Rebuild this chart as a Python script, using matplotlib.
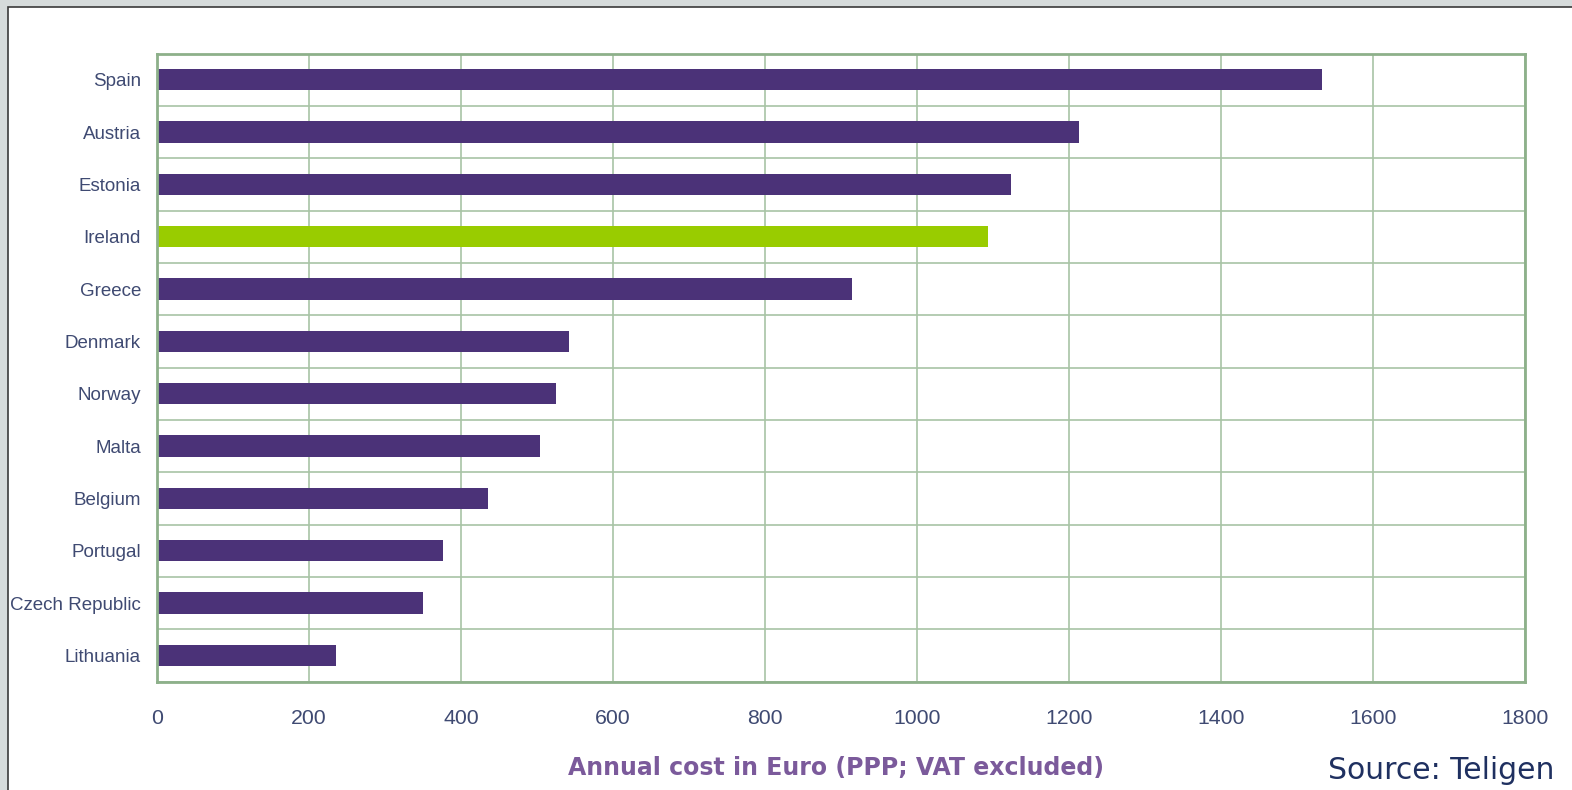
import numpy as np
import matplotlib
matplotlib.use('Agg')
import matplotlib.pyplot as plt
from matplotlib.patches import Rectangle

# annual cost per country, top of chart first
countries = ['Spain', 'Austria', 'Estonia', 'Ireland', 'Greece', 'Denmark',
             'Norway', 'Malta', 'Belgium', 'Portugal', 'Czech Republic', 'Lithuania']
cost = [1533, 1213, 1124, 1093, 914, 542, 525, 504, 435, 376, 350, 235]
highlight = 'Ireland'
x_ticks = [0, 200, 400, 600, 800, 1000, 1200, 1400, 1600, 1800]

purple = '#4B3278'
lime = '#99CC00'
frame_green = '#8DB08A'
grid_green = '#A8C4A5'
label_col = '#3F4A72'

W, H = 1572, 790
fig = plt.figure(figsize=(W / 100, H / 100), dpi=100)
fig.patch.set_facecolor('#D6DBDB')

# white panel with dark edge on the top/left
panel = Rectangle((8 / W, -0.02), 1.05, 1 - 7 / H + 0.02, transform=fig.transFigure,
                  facecolor='white', edgecolor='#3A3A3A', lw=1.2, zorder=-10)
fig.patches.append(panel)

ax = fig.add_axes([157 / W, 1 - 681.5 / H, 1368 / W, 628 / H])
ax.set_facecolor('none')
ax.set_zorder(1)

y = np.arange(len(countries))
colors = [lime if c == highlight else purple for c in countries]
ax.barh(y, cost, height=0.41, color=colors, zorder=3)

ax.set_xlim(0, 1800)
ax.set_ylim(len(countries) - 0.5, -0.5)
ax.set_xticks(x_ticks)
ax.set_xticklabels([str(t) for t in x_ticks])
ax.set_yticks(y)
ax.set_yticklabels(countries)
ax.set_yticks(np.arange(len(countries) + 1) - 0.5, minor=True)

ax.grid(axis='x', which='major', color=grid_green, lw=1.2, zorder=1)
ax.grid(axis='y', which='minor', color=grid_green, lw=1.2, zorder=1)
ax.grid(axis='y', which='major', visible=False)

ax.tick_params(axis='both', which='both', length=0)
ax.tick_params(axis='x', pad=20, labelsize=15.3, labelcolor=label_col)
ax.tick_params(axis='y', pad=11.5, labelsize=13.5, labelcolor=label_col)
for lab in ax.get_xticklabels() + ax.get_yticklabels():
    lab.set_fontfamily('Liberation Sans')

for sp in ax.spines.values():
    sp.set_color(frame_green)
    sp.set_linewidth(2.0)
    sp.set_zorder(4)

fig.text(836 / W, 1 - 768 / H, 'Annual cost in Euro (PPP; VAT excluded)',
         ha='center', va='center', fontsize=17, fontweight='bold',
         color='#7B5A9B', family='DejaVu Sans')
fig.text(1554 / W, 1 - 779 / H, 'Source: Teligen', ha='right', va='baseline',
         fontsize=21.5, color='#1F3060', family='DejaVu Sans')

fig.savefig('out.png', dpi=100, facecolor=fig.get_facecolor())
